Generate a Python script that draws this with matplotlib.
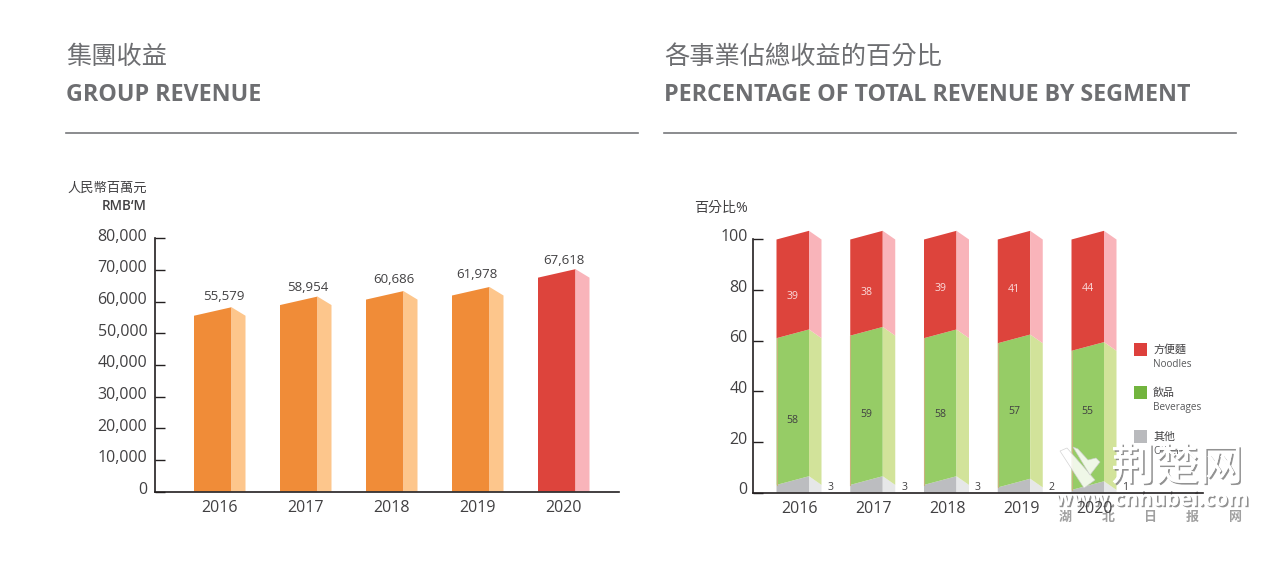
"""Group revenue and revenue share by segment, drawn as fake 3D bars."""

import matplotlib
matplotlib.use("Agg")
import matplotlib.pyplot as plt
from matplotlib import patheffects
from matplotlib.patches import Polygon, Rectangle
from matplotlib.transforms import ScaledTranslation

plt.rcParams["font.family"] = ["Open Sans", "Noto Sans CJK TC", "DejaVu Sans"]

years = ["2016", "2017", "2018", "2019", "2020"]
revenue = [55579, 58954, 60686, 61978, 67618]
revenue_labels = ["55,579", "58,954", "60,686", "61,978", "67,618"]
revenue_ticks = [0, 10000, 20000, 30000, 40000, 50000, 60000, 70000, 80000]
revenue_ticklabels = ["0", "10,000", "20,000", "30,000", "40,000", "50,000", "60,000", "70,000", "80,000"]

others = [3, 3, 3, 2, 1]
beverages = [58, 59, 58, 57, 55]
noodles = [39, 38, 39, 41, 44]
share_ticks = [0, 20, 40, 60, 80, 100]

# hand placement of labels in the original, not data
value_dx = [5.5, 4, 3.5, 0.5, 2]
value_dy = [1, 0, 2, 3, -1]
noodle_nudge = [-3.2, -1.8, 0.3, 0.9, 2.8]
beverage_nudge = [-3.7, -1.5, -1, 1.7, 3.7]

W, H = 1264, 562
GREY = "#6d6e71"
DARK = "#414042"
ORANGE = ("#f08c38", "#fdc68c")
RED = ("#dd443c", "#f9b4ba")
GREEN = ("#96cc66", "#d2e39a")
SILVER = ("#bcbdc0", "#e6e7e8")


def px_axes(fig, left, top, right, bottom):
    return fig.add_axes([left / W, 1 - bottom / H, (right - left) / W, (bottom - top) / H])


def pt(px):
    return px * 0.72


def bar3d(ax, x, low, high, width, side, rise, colors, floor=False):
    # front face plus the lighter side face, slanted up by "rise"
    low_rise = 0 if floor else rise
    front = [(x, low), (x + width, low + low_rise), (x + width, high + rise), (x, high)]
    back = [(x + width, low + low_rise), (x + width + side, low),
            (x + width + side, high), (x + width, high + rise)]
    ax.add_patch(Polygon(front, closed=True, fc=colors[0], ec="none", zorder=2, clip_on=False))
    ax.add_patch(Polygon(back, closed=True, fc=colors[1], ec="none", zorder=2, clip_on=False))


def style_axis(ax, ticks, labels, ymax, pad, lift):
    ax.set_ylim(0, ymax)
    ax.patch.set_visible(False)
    for s in ["top", "right"]:
        ax.spines[s].set_visible(False)
    for s in ["left", "bottom"]:
        ax.spines[s].set_linewidth(1.2)
        ax.spines[s].set_color("#231f20")
    ax.set_yticks(ticks)
    ax.set_yticklabels(labels, fontsize=pt(16), color=DARK)
    ax.tick_params(axis="y", direction="in", length=pt(10), width=1.0, color="#231f20", pad=pad)
    ax.tick_params(axis="x", length=0, pad=6.3, labelsize=pt(16), labelcolor=DARK)
    # labels sit a little above their ticks in the original
    shift = ScaledTranslation(0, lift / 100, ax.figure.dpi_scale_trans)
    for lab in ax.get_yticklabels():
        lab.set_transform(lab.get_transform() + shift)


fig = plt.figure(figsize=(W / 100, H / 100), dpi=100, facecolor="white")

# full page layer for headings and rules, in pixel coordinates
page = fig.add_axes([0, 0, 1, 1], zorder=0)
page.set_xlim(0, W)
page.set_ylim(H, 0)
page.axis("off")

page.text(66, 57, "集團收益", fontsize=pt(25.3), color=GREY, va="center", family=["Noto Sans CJK TC"])
page.text(66, 100.7, "GROUP REVENUE", fontsize=pt(23.3), color=GREY, va="baseline", fontweight="bold")
page.text(664, 57, "各事業佔總收益的百分比", fontsize=pt(25.3), color=GREY, va="center", family=["Noto Sans CJK TC"])
page.text(664, 100.7, "PERCENTAGE OF TOTAL REVENUE BY SEGMENT", fontsize=pt(23.3), color=GREY, va="baseline", fontweight="bold")
page.plot([66, 638], [133, 133], color="#77787b", lw=1.2)
page.plot([664, 1236], [133, 133], color="#77787b", lw=1.2)

page.text(147, 188, "人民幣百萬元", fontsize=pt(13.3), color=DARK, ha="right", va="center")
page.text(147, 206, "RMB‘M", fontsize=pt(13.5), color=DARK, ha="right", va="center", fontweight="semibold")
page.text(694, 208, "百分比%", fontsize=pt(14), color=DARK, va="center")

# watermark text under the charts so the year labels stay on top
shadow = [patheffects.withSimplePatchShadow(offset=(1.2, -1.2), shadow_rgbFace="#777777", alpha=0.8),
          patheffects.Normal()]
page.text(1152, 500, "www.cnhubei.com", fontsize=pt(21), color="white", ha="center", va="center",
          fontweight="bold", path_effects=shadow)
for x, ch in zip([1065, 1108, 1150, 1192, 1235], "湖北日报网"):
    page.text(x, 517, ch, fontsize=pt(13), color="#a0a0a0", ha="center", va="center",
              family=["Noto Sans CJK SC"], fontweight="bold")

# left chart
ax1 = px_axes(fig, 155, 238.5, 619, 491.5)
ax1.set_xlim((155 - 194) / 86, (619 - 194) / 86)
style_axis(ax1, revenue_ticks, revenue_ticklabels, 80000, 5.5, 3.7)
w1, s1 = 37.5 / 86, 14 / 86
rise1 = 8.5 / 253 * 80000
for i, v in enumerate(revenue):
    colors = RED if i == 4 else ORANGE
    bar3d(ax1, i, 0, v, w1, s1, rise1, colors, floor=True)
    ax1.annotate(revenue_labels[i], (i + (w1 + s1) / 2 - 0.02, v + rise1 + 900),
                 xytext=(pt(value_dx[i]), pt(value_dy[i])), textcoords="offset points",
                 fontsize=pt(13.3), color=DARK, ha="center", va="bottom", annotation_clip=False)
ax1.set_xticks([i + (w1 + s1) / 2 - 0.008 for i in range(5)])
ax1.set_xticklabels(years)

# right chart
ax2 = px_axes(fig, 753, 239.5, 1203, 492.5)
ax2.set_xlim((753 - 776.5) / 73.75, (1203 - 776.5) / 73.75)
style_axis(ax2, share_ticks, [str(t) for t in share_ticks], 100, 4, 4.2)
w2, s2 = 32.5 / 73.75, 12.5 / 73.75
rise2 = 8.7 / 253 * 100
for i in range(5):
    g_top = others[i] + beverages[i]
    bar3d(ax2, i, 0, others[i], w2, s2, rise2, SILVER, floor=True)
    bar3d(ax2, i, others[i], g_top, w2, s2, rise2, GREEN)
    bar3d(ax2, i, g_top, 100, w2, s2, rise2, RED)
    # thin tan edge on the green part, as in the original
    ax2.plot([i, i], [others[i], g_top], color="#c9b27c", lw=0.8, zorder=3)
    mid = i + w2 / 2
    ax2.text(mid, others[i] + beverages[i] / 2 + beverage_nudge[i], str(beverages[i]), fontsize=pt(10.5),
             color=DARK, ha="center", va="center")
    ax2.text(mid, g_top + noodles[i] / 2 + noodle_nudge[i], str(noodles[i]), fontsize=pt(10.5),
             color="#fbdcdc", ha="center", va="center")
    ax2.text(i + w2 + s2 + 0.12, 2, str(others[i]), fontsize=pt(10.5), color=DARK, ha="center", va="center")
ax2.set_xticks([i + (w2 + s2) / 2 + 0.012 for i in range(5)])
ax2.set_xticklabels(years)

# legend, drawn by hand to keep the two line labels
over = fig.add_axes([0, 0, 1, 1], zorder=5)
over.set_xlim(0, W)
over.set_ylim(H, 0)
over.axis("off")
legend = [("方便麵", "Noodles", "#dd403c", 343), ("飲品", "Beverages", "#72b43e", 386), ("其他", "Others", "#b9babd", 430)]
for zh, en, color, top in legend:
    over.add_patch(Rectangle((1134, top), 13, 13, fc=color, ec="none"))
    over.text(1153, top + 7.5, zh, fontsize=pt(11), color=DARK, va="center")
    over.text(1153, top + 21.5, en, fontsize=pt(10), color="#58595b", va="center")

# site watermark over the corner
over.text(1177, 467, "荆楚网", fontsize=pt(44), color="white", ha="center", va="center",
          family=["Noto Sans CJK SC"], path_effects=shadow)
over.add_patch(Polygon([(1060, 451), (1067, 448), (1095, 480), (1084, 488)], closed=True, fc="white", alpha=0.85, ec="#cccccc", lw=0.5))
over.add_patch(Polygon([(1073, 447), (1078, 449), (1088, 460), (1096, 458), (1100, 462), (1090, 475)], closed=True, fc="white", alpha=0.85, ec="#cccccc", lw=0.5))

fig.savefig("out.png", dpi=100, facecolor="white")
